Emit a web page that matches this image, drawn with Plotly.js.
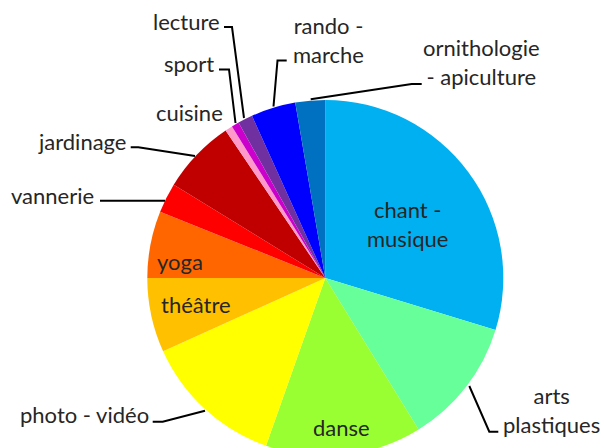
<!DOCTYPE html>
<html>
<head>
<meta charset="utf-8">
<script src="https://cdn.plot.ly/plotly-3.0.1.min.js"></script>
<style>
html,body{margin:0;padding:0;overflow:hidden;background:#fff;}
#chart{width:604px;height:470px;}
</style>
</head>
<body>
<div id="chart"></div>
<script>
// ---- data ----
const categories = ["chant - musique", "arts plastiques", "danse", "photo - vidéo", "théâtre", "yoga",
  "vannerie", "jardinage", "cuisine", "sport", "lecture", "rando - marche", "ornithologie - apiculture"];
const counts = [44, 17, 21, 19, 10, 9, 4, 10, 1, 1, 2, 6, 4];
const labelText = ["chant -<br>musique", "arts<br>plastiques", "danse", "photo - vidéo", "théâtre", "yoga",
  "vannerie", "jardinage", "cuisine", "sport", "lecture", "rando -<br>marche", "ornithologie<br>- apiculture"];

// ---- styles ----
const colors = ["#00B0F0", "#66FF99", "#99FF33", "#FFFF00", "#FFC000", "#FF6600",
  "#FF0000", "#C00000", "#FF99CC", "#CC00CC", "#7030A0", "#0000FF", "#0070C0"];

const W = 604, H = 470;
const px = x => x / W;
const py = y => (H - y) / H;

// label centres (pixels)
const labelPos = [[407, 224], [551, 410], [341, 427], [84, 414], [196, 304], [180, 261],
  [52, 195], [82, 141], [189, 112], [189, 63], [186, 22], [328, 40], [481, 62]];

// leader lines (pixels)
const leaders = [
  [[130.7, 147.3], [138.3, 147.3], [195, 156]],          // jardinage
  [[100, 200.7], [165, 200.7]],                           // vannerie
  [[152.7, 421.7], [162.7, 421.7], [205, 410.7]],         // photo - vidéo
  [[469.3, 386], [489.3, 431.7], [498.3, 431.7]],          // arts plastiques
  [[224, 27], [232, 27], [244, 118]],                      // lecture
  [[219, 69.5], [229, 69.5], [235.5, 123]],                // sport
  [[286.7, 60.5], [277.5, 60.5], [273.5, 106.5]],          // rando - marche
  [[421.7, 84], [411.7, 84], [310.7, 99.3]]                // ornithologie
];

const cx = 325.3, cy = 278, r = 178;

const trace = {
  type: 'pie',
  labels: categories,
  values: counts,
  sort: false,
  direction: 'clockwise',
  rotation: 0,
  textinfo: 'none',
  hoverinfo: 'label+value+percent',
  marker: {colors: colors, line: {width: 0}},
  domain: {x: [px(cx - r), px(cx + r)], y: [py(cy + r), py(cy - r)]},
  showlegend: false
};

const annotations = labelText.map((t, i) => ({
  text: t, xref: 'paper', yref: 'paper',
  x: px(labelPos[i][0]), y: py(labelPos[i][1]),
  xanchor: 'center', yanchor: 'middle', showarrow: false, align: 'center',
  font: {family: 'Lato, "Open Sans", sans-serif', size: 22, color: '#262626'}
}));

const shapes = leaders.map(pts => ({
  type: 'path', xref: 'paper', yref: 'paper',
  path: pts.map((p, k) => (k ? 'L' : 'M') + px(p[0]) + ',' + py(p[1])).join(' '),
  line: {color: '#000000', width: 2}
}));

Plotly.newPlot('chart', [trace], {
  width: W, height: H,
  margin: {l: 0, r: 0, t: 0, b: 0},
  paper_bgcolor: '#ffffff',
  annotations: annotations,
  shapes: shapes
}, {displayModeBar: false, staticPlot: true});
</script>
</body>
</html>
